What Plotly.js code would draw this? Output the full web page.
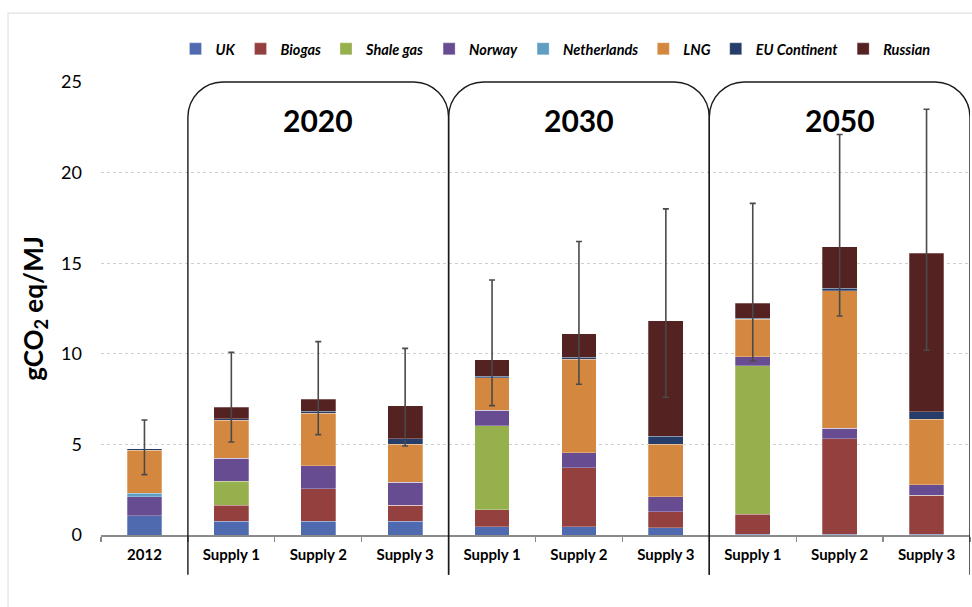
<!DOCTYPE html>
<html>
<head>
<meta charset="utf-8">
<script src="https://cdn.plot.ly/plotly-3.0.1.min.js"></script>
<style>
  html, body { margin: 0; padding: 0; background: #ffffff; }
  #chart { width: 972px; height: 607px; }
</style>
</head>
<body>
<div id="chart"></div>
<script>
// Bar positions along the axis: the 2012 baseline, then three supply scenarios per future year
const categories = ['2012', 'Supply 1', 'Supply 2', 'Supply 3', 'Supply 1', 'Supply 2', 'Supply 3', 'Supply 1', 'Supply 2', 'Supply 3'];
const yearGroups = ['2020', '2030', '2050'];

// Emission contribution of each gas source (gCO2 eq/MJ)
const uk          = [1.07, 0.77, 0.77, 0.77, 0.46, 0.46, 0.39, 0.05, 0.05, 0.05];
const biogas      = [0.00, 0.87, 1.79, 0.87, 0.92, 3.24, 0.90, 1.09, 5.25, 2.14];
const shaleGas    = [0.00, 1.32, 0.00, 0.00, 4.65, 0.00, 0.00, 8.19, 0.00, 0.00];
const norway      = [1.04, 1.27, 1.25, 1.27, 0.85, 0.83, 0.82, 0.51, 0.59, 0.57];
const netherlands = [0.19, 0.00, 0.00, 0.00, 0.00, 0.00, 0.00, 0.00, 0.00, 0.00];
const lng         = [2.39, 2.10, 2.91, 2.09, 1.80, 5.17, 2.91, 2.08, 7.59, 3.64];
const euContinent = [0.07, 0.09, 0.12, 0.30, 0.09, 0.11, 0.43, 0.03, 0.15, 0.39];
const russian     = [0.00, 0.64, 0.65, 1.82, 0.89, 1.30, 6.38, 0.84, 2.28, 8.76];

// Uncertainty range of the total for each bar
const rangeHigh = [6.35, 10.08, 10.67, 10.30, 14.07, 16.20, 18.00, 18.30, 22.10, 23.50];
const rangeLow  = [3.33, 5.13, 5.54, 4.91, 7.14, 8.32, 7.60, 9.60, 12.09, 10.20];

const series = [
  { name: 'UK',           values: uk,          color: '#4f6aaf' },
  { name: 'Biogas',       values: biogas,      color: '#93403e' },
  { name: 'Shale gas',    values: shaleGas,    color: '#97b04e' },
  { name: 'Norway',       values: norway,      color: '#684c91' },
  { name: 'Netherlands',  values: netherlands, color: '#5f9dc2' },
  { name: 'LNG',          values: lng,         color: '#d4883f' },
  { name: 'EU Continent', values: euContinent, color: '#273d69' },
  { name: 'Russian',      values: russian,     color: '#552222' }
];

const xIdx = categories.map((_, i) => i);
const totals = xIdx.map(i => series.reduce((s, t) => s + t.values[i], 0));

const traces = series.map(s => ({
  type: 'bar',
  name: s.name,
  x: xIdx,
  y: s.values,
  width: 0.4,
  marker: { color: s.color, line: { color: 'rgba(255,255,255,0.45)', width: 0.6 } },
  hoverinfo: 'skip'
}));

// Whiskers around each stacked total
traces.push({
  type: 'scatter',
  mode: 'markers',
  x: xIdx,
  y: totals,
  showlegend: false,
  hoverinfo: 'skip',
  marker: { size: 1, color: 'rgba(0,0,0,0)' },
  error_y: {
    type: 'data',
    symmetric: false,
    array: xIdx.map(i => rangeHigh[i] - totals[i]),
    arrayminus: xIdx.map(i => totals[i] - rangeLow[i]),
    color: '#4a4a4a',
    thickness: 1.6,
    width: 3
  }
});

// Rounded frames that group the scenarios of each future year
const BOX_BOTTOM = -0.088, BOX_TOP = 1.0, RX = 0.40, RY = 0.078, K = 0.5523;
function framePath(a, b) {
  const t = BOX_TOP;
  return 'M' + a + ',' + BOX_BOTTOM +
    ' L' + a + ',' + (t - RY) +
    ' C' + a + ',' + (t - RY + K * RY) + ' ' + (a + RX - K * RX) + ',' + t + ' ' + (a + RX) + ',' + t +
    ' L' + (b - RX) + ',' + t +
    ' C' + (b - RX + K * RX) + ',' + t + ' ' + b + ',' + (t - RY + K * RY) + ' ' + b + ',' + (t - RY) +
    ' L' + b + ',' + BOX_BOTTOM;
}

const shapes = [];
const annotations = [];
yearGroups.forEach((yr, g) => {
  const first = 1 + g * 3, last = first + 2;
  shapes.push({
    type: 'path', xref: 'x', yref: 'paper', layer: 'above',
    path: framePath(first - 0.5, last + 0.5),
    line: { color: '#1a1a1a', width: 1.4 }
  });
  annotations.push({
    xref: 'x', yref: 'paper', x: first + 1, y: 0.916,
    text: '<b>' + yr + '</b>', showarrow: false,
    font: { family: 'Lato, sans-serif', size: 30, color: '#000000' },
    xanchor: 'center', yanchor: 'middle'
  });
});

// Light outer frame
shapes.push({
  type: 'rect', xref: 'paper', yref: 'paper', layer: 'below',
  x0: -0.107, x1: 1.2, y0: -0.3, y1: 1.152,
  line: { color: '#e2e2e2', width: 1.2 }
});

const layout = {
  width: 972,
  height: 607,
  margin: { l: 101, r: 2, t: 82, b: 72, pad: 0 },
  paper_bgcolor: '#ffffff',
  plot_bgcolor: '#ffffff',
  barmode: 'stack',
  hovermode: false,
  font: { family: 'Lato, sans-serif', color: '#000000' },
  showlegend: true,
  legend: {
    orientation: 'h',
    traceorder: 'normal',
    x: 0.523, xanchor: 'center',
    y: 1.073, yanchor: 'middle',
    font: { family: 'Lato, sans-serif', size: 14.5, weight: 'bold', style: 'italic', color: '#000000' },
    itemwidth: 30,
    bgcolor: 'rgba(0,0,0,0)'
  },
  xaxis: {
    range: [-0.5, 9.5],
    tickmode: 'array',
    tickvals: xIdx,
    ticktext: categories,
    ticks: '',
    ticklabelstandoff: 5,
    tickfont: { family: 'Lato, sans-serif', size: 15, weight: 'bold', color: '#000000' },
    showgrid: false,
    zeroline: false,
    showline: true,
    linecolor: '#8a8a8a',
    linewidth: 1.5,
    minor: { tick0: -0.5, dtick: 1, ticks: 'outside', ticklen: 5, tickcolor: '#8a8a8a', tickwidth: 1.3, showgrid: false }
  },
  yaxis: {
    range: [0, 25],
    tickmode: 'linear',
    tick0: 0,
    dtick: 5,
    ticks: '',
    ticklabelstandoff: 18,
    tickfont: { family: 'Lato, sans-serif', size: 18, color: '#000000' },
    showgrid: true,
    gridcolor: '#cfcfcf',
    griddash: 'dot',
    gridwidth: 1,
    zeroline: false,
    showline: false,
    title: {
      text: '<b>gCO<sub>2</sub> eq/MJ</b>',
      font: { family: 'Lato, sans-serif', size: 26, color: '#000000' },
      standoff: 10
    }
  },
  shapes: shapes,
  annotations: annotations
};

Plotly.newPlot('chart', traces, layout, { displayModeBar: false, staticPlot: true });
</script>
</body>
</html>
